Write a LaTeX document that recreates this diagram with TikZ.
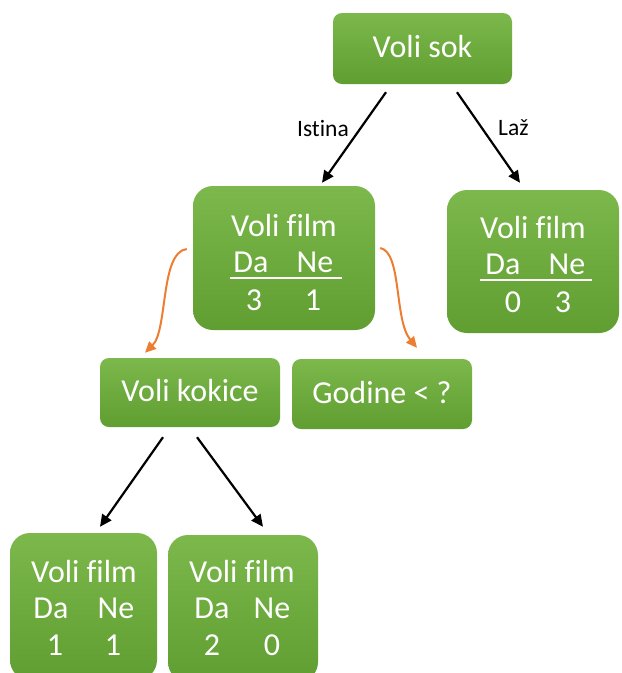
\documentclass[tikz,border=0pt]{standalone}
\usepackage{fontspec}
\setmainfont[Ligatures={NoCommon}]{Carlito}
\usetikzlibrary{arrows.meta,calc}
\definecolor{gtop}{RGB}{124,184,76}
\definecolor{gbot}{RGB}{96,158,50}
\definecolor{orng}{RGB}{237,125,49}
\tikzset{
  gbox/.style={draw=none, top color=gtop, bottom color=gbot, inner sep=0pt},
  smallr/.style={rounded corners=9pt},
  bigr/.style={rounded corners=20pt},
  wtxt/.style={text=white, inner sep=0pt, font=\fontsize{32}{36}\selectfont},
  lbl/.style={inner sep=0pt, font=\fontsize{23.5}{26}\selectfont},
  arr/.style={draw=black, line width=2.2pt, -{Triangle[length=12pt,width=11pt]}},
  oarr/.style={draw=orng, line width=2pt, -{Triangle[length=11pt,width=10pt]}},
  divl/.style={draw=white, line width=2pt}
}
\begin{document}
\begin{tikzpicture}[x=1pt,y=-1pt]
\useasboundingbox (0,0) rectangle (622,673);
\clip (0,0) rectangle (622,673);
% boxes
\node[gbox,smallr,minimum width=179pt,minimum height=71pt] (sok) at (422.5,48.5) {};
\node[gbox,bigr,minimum width=182pt,minimum height=144pt] (mid) at (284,258) {};
\node[gbox,bigr,minimum width=172pt,minimum height=143pt] (rgt) at (533,261.5) {};
\node[gbox,smallr,minimum width=180pt,minimum height=69pt] (kok) at (190,392.5) {};
\node[gbox,smallr,minimum width=180pt,minimum height=70pt] (god) at (382,394) {};
\node[gbox,bigr,minimum width=147pt,minimum height=147pt] (bl) at (83.5,606.5) {};
\node[gbox,bigr,minimum width=150pt,minimum height=147pt] (br) at (243,608.5) {};
% texts
\node[wtxt] (tsok) at (422.5,47) {Voli sok};
\node[wtxt] (tkok) at (190,390) {Voli kokice};
\node[wtxt] (tgod) at (382,392) {Godine < ?};

\node[wtxt] (tmid) at (284,225) {Voli film};
\node[wtxt] (mda) at (251,262) {Da};
\node[wtxt] (mne) at (315,262) {Ne};
\node[wtxt] (m3) at (254,300) {3};
\node[wtxt] (m1) at (313,300) {1};

\node[wtxt] (trgt) at (533,227) {Voli film};
\node[wtxt] (rda) at (503,264) {Da};
\node[wtxt] (rne) at (567,264) {Ne};
\node[wtxt] (r0) at (513,302) {0};
\node[wtxt] (r3) at (563,302) {3};

\node[wtxt] (tbl) at (84,571) {Voli film};
\node[wtxt] (blda) at (51,608) {Da};
\node[wtxt] (blne) at (116,608) {Ne};
\node[wtxt] (bl1) at (55,645) {1};
\node[wtxt] (bl2) at (113,645) {1};

\node[wtxt] (tbr) at (242,571) {Voli film};
\node[wtxt] (brda) at (212,608) {Da};
\node[wtxt] (brne) at (272,608) {Ne};
\node[wtxt] (br2) at (212,645) {2};
\node[wtxt] (br0) at (272,645) {0};

% divider lines
\coordinate (mdl) at (230,278);
\coordinate (mdr) at (342,278);
\draw[divl] (mdl) -- (mdr);
\coordinate (rdl) at (480,280);
\coordinate (rdr) at (592,280);
\draw[divl] (rdl) -- (rdr);

% arrows
\draw[arr] ([xshift=-36.5pt,yshift=-8pt]sok.south) -- ([xshift=38pt,yshift=3pt]mid.north);
\draw[arr] ([xshift=34.5pt,yshift=-8pt]sok.south) -- ([xshift=-13pt,yshift=7pt]rgt.north);
\draw[arr] ([xshift=-27pt,yshift=-10pt]kok.south) -- ([xshift=16.5pt,yshift=6pt]bl.north);
\draw[arr] ([xshift=7pt,yshift=-10pt]kok.south) -- ([xshift=20pt,yshift=8pt]br.north);

% orange curved arrows
\draw[oarr] ([xshift=-6pt,yshift=9pt]mid.west) .. controls (160,252) and (168,330) .. ([xshift=-45pt,yshift=5pt]kok.north);
\draw[oarr] ([xshift=5pt,yshift=10pt]mid.east) .. controls (402,252) and (394,320) .. ([xshift=35pt,yshift=11pt]god.north);

% labels
\node[lbl,anchor=east] (list) at (349,128) {Istina};
\node[lbl,anchor=west] (llaz) at (498,128) {Laž};
\end{tikzpicture}
\end{document}
